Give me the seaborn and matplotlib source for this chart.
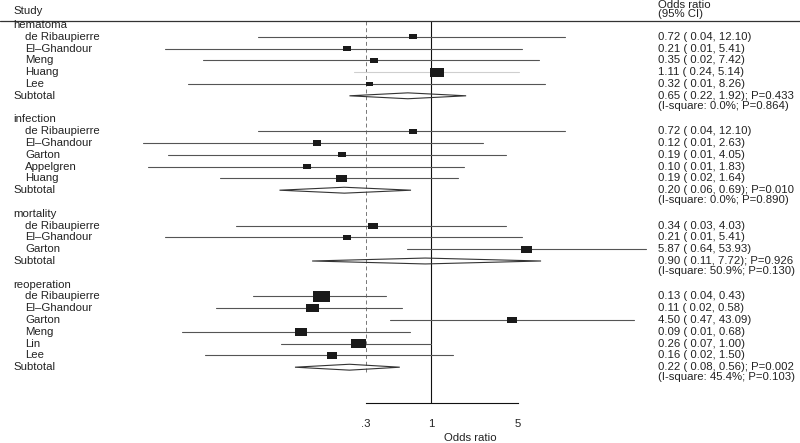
"""Forest plot of odds ratios for complications, by outcome subgroup."""

import matplotlib
matplotlib.use("Agg")
import numpy as np
import pandas as pd
import matplotlib.pyplot as plt
import seaborn as sns
from matplotlib.path import Path
from matplotlib.ticker import NullLocator

# ---- data -------------------------------------------------------------
groups = ["hematoma", "infection", "mortality", "reoperation"]

study_group = (["hematoma"] * 5 + ["infection"] * 5
               + ["mortality"] * 3 + ["reoperation"] * 6)
study_name = ["de Ribaupierre", "El–Ghandour", "Meng", "Huang", "Lee",
              "de Ribaupierre", "El–Ghandour", "Garton", "Appelgren", "Huang",
              "de Ribaupierre", "El–Ghandour", "Garton",
              "de Ribaupierre", "El–Ghandour", "Garton", "Meng", "Lin", "Lee"]
odds = [0.72, 0.21, 0.35, 1.11, 0.32,
        0.72, 0.12, 0.19, 0.10, 0.19,
        0.34, 0.21, 5.87,
        0.13, 0.11, 4.50, 0.09, 0.26, 0.16]
# lower CI as drawn (printed values are rounded)
ci_low = [0.04, 0.0072, 0.0145, 0.24, 0.011,
          0.04, 0.0048, 0.0076, 0.0052, 0.02,
          0.027, 0.0072, 0.64,
          0.037, 0.0185, 0.47, 0.0098, 0.062, 0.015]
ci_low_txt = [0.04, 0.01, 0.02, 0.24, 0.01,
              0.04, 0.01, 0.01, 0.01, 0.02,
              0.03, 0.01, 0.64,
              0.04, 0.02, 0.47, 0.01, 0.07, 0.02]
ci_high = [12.10, 5.41, 7.42, 5.14, 8.26,
           12.10, 2.63, 4.05, 1.83, 1.64,
           4.03, 5.41, 53.93,
           0.43, 0.58, 43.09, 0.68, 1.00, 1.50]
weight = [16, 16, 16, 49, 12,
          16, 16, 16, 16, 30,
          22, 14, 28,
          72, 42, 28, 34, 56, 25]

sub_or = [0.65, 0.20, 0.90, 0.22]
sub_lo = [0.22, 0.06, 0.11, 0.08]
sub_hi = [1.92, 0.69, 7.72, 0.56]
sub_p = ["0.433", "0.010", "0.926", "0.002"]
i_square = ["0.0", "0.0", "50.9", "45.4"]
i_square_p = ["0.864", "0.890", "0.130", "0.103"]

overall_or = 0.30
xticks = [0.3, 1, 5]
xtick_labels = [".3", "1", "5"]

df = pd.DataFrame({"group": study_group, "study": study_name, "odds": odds,
                   "lo": ci_low, "lo_txt": ci_low_txt, "hi": ci_high,
                   "weight": weight})

# ---- figure -----------------------------------------------------------
sns.set_style("white")
plt.rcParams["font.family"] = ["Liberation Sans", "DejaVu Sans"]
FS = 8.2
TXT = "#222222"

fig = plt.figure(figsize=(8, 4.43), dpi=100)
ax = fig.add_axes([0, 0, 1, 1])
ax.set_xscale("log")

def px(x):
    return x / 800

def ry(y):
    # pixel row -> data row
    return (y - 25) / 11.8

tr = ax.get_yaxis_transform()  # x in axes fraction, y in rows

row = 0
rows = []
for gi, g in enumerate(groups):
    ax.text(px(13), row, g, transform=tr, fontsize=FS, color=TXT, va="center")
    row += 1
    sub = df[df.group == g]
    for _, r in sub.iterrows():
        faint = (g == "hematoma" and r.study == "Huang")
        ax.plot([r.lo, r.hi], [row, row], color="#cfcfcf" if faint else "#555555",
                lw=0.8, zorder=2)
        ax.text(px(25), row, r.study, transform=tr, fontsize=FS, color=TXT, va="center")
        ax.text(px(658), row, f"{r.odds:.2f} ( {r.lo_txt:.2f}, {r.hi:.2f})",
                transform=tr, fontsize=FS, color=TXT, va="center")
        rows.append(row)
        row += 1
    # subtotal diamond
    h = 0.25
    ax.fill([sub_lo[gi], sub_or[gi], sub_hi[gi], sub_or[gi]],
            [row, row - h, row, row + h], facecolor="none",
            edgecolor="#333333", lw=0.8, zorder=3)
    ax.text(px(13), row, "Subtotal", transform=tr, fontsize=FS, color=TXT, va="center")
    ax.text(px(658), row,
            f"{sub_or[gi]:.2f} ( {sub_lo[gi]:.2f}, {sub_hi[gi]:.2f}); P={sub_p[gi]}",
            transform=tr, fontsize=FS, color=TXT, va="center")
    ax.text(px(658), row + 0.85,
            f"(I-square: {i_square[gi]}%; P={i_square_p[gi]})",
            transform=tr, fontsize=FS, color=TXT, va="center")
    last_row = row
    row += 2

df["row"] = rows
# box width in px ~ 2*sqrt(weight); scatter size in pt^2
df["s"] = (2 * np.sqrt(df["weight"]) * 72 / 100) ** 2
box = Path([(-1, -0.64), (1, -0.64), (1, 0.64), (-1, 0.64), (-1, -0.64)], closed=True)
sns.scatterplot(data=df, x="odds", y="row", size="s",
                sizes=(df["s"].min(), df["s"].max()), marker=box,
                color="#1a1a1a", linewidth=0, legend=False, ax=ax, zorder=4)

axis_row = ry(403)
head_row = ry(21)

# no-effect line and overall estimate
ax.plot([1, 1], [head_row, axis_row], color="#111111", lw=0.8, zorder=1)
ax.plot([overall_or, overall_or], [head_row, last_row + 0.4],
        color="#777777", lw=0.7, ls=(0, (4, 3)), zorder=1)
ax.axhline(head_row, color="#333333", lw=0.9)

# headers
ax.text(px(13), ry(11), "Study", transform=tr, fontsize=FS, color=TXT, va="center")
ax.text(px(658), ry(0.5), "Odds ratio\n(95% CI)", transform=tr, fontsize=FS,
        color=TXT, va="top", linespacing=0.78)
ax.text(px(470), ry(433), "Odds ratio", transform=tr, fontsize=FS, color=TXT,
        ha="center", va="top")

ax.set_xlim(10 ** (-431 / 124), 10 ** (369 / 124))
ax.set_ylim(ry(443), ry(0))

for side in ["top", "left", "right"]:
    ax.spines[side].set_visible(False)
ax.spines["bottom"].set_position(("data", axis_row))
ax.spines["bottom"].set_bounds(xticks[0], xticks[-1])
ax.spines["bottom"].set_color("#111111")
ax.spines["bottom"].set_linewidth(0.8)
ax.set_xticks(xticks)
ax.set_xticklabels(xtick_labels)
ax.xaxis.set_minor_locator(NullLocator())
ax.tick_params(axis="x", direction="out", length=5.8, width=0.8, pad=6,
               labelsize=FS, colors="#111111", labelcolor=TXT)
ax.set_yticks([])
ax.set_xlabel("")
ax.set_ylabel("")

fig.savefig("out.png", dpi=100)
